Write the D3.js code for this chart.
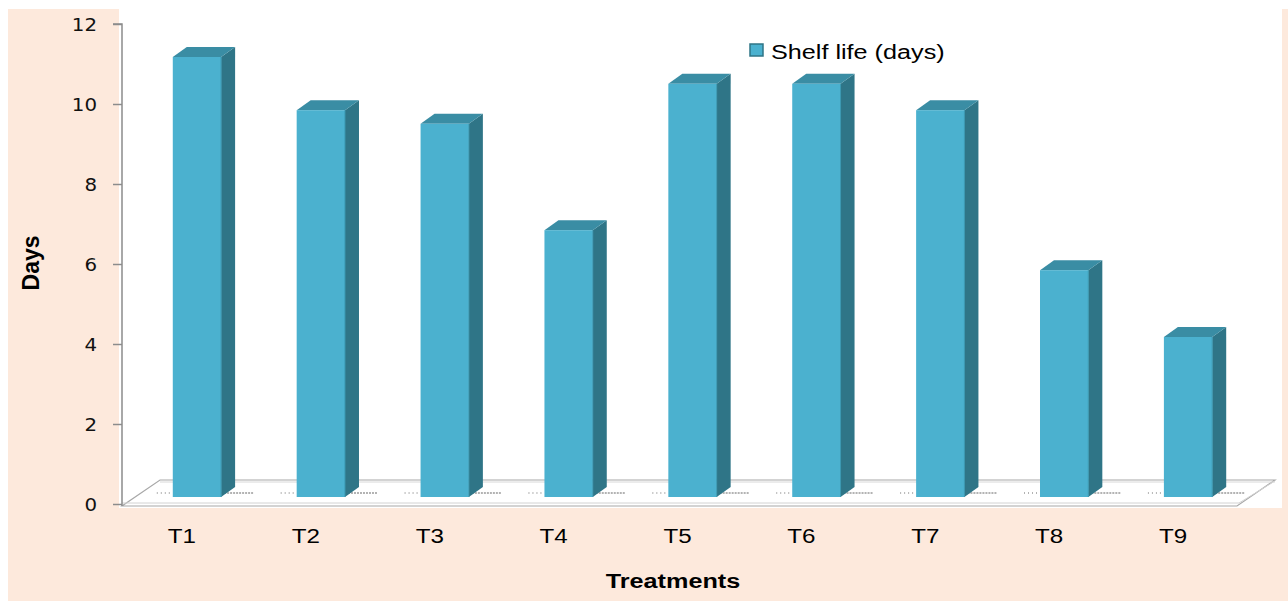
<!DOCTYPE html>
<html>
<head>
<meta charset="utf-8">
<script src="https://cdn.jsdelivr.net/npm/d3@7"></script>
<style>
  html, body { margin: 0; padding: 0; background: #ffffff; }
  svg { display: block; }
</style>
</head>
<body>
<svg id="chart" width="1288" height="601"></svg>
<script>
// Shelf life of each treatment, in days
const categories = ["T1", "T2", "T3", "T4", "T5", "T6", "T7", "T8", "T9"];
const shelfLife = [11.0, 9.67, 9.33, 6.67, 10.33, 10.33, 9.67, 5.67, 4.0];
const yTicks = [0, 2, 4, 6, 8, 10, 12];
const seriesName = "Shelf life (days)";

const svg = d3.select("#chart");

// Panel backgrounds
svg.append("rect").attr("x", 8).attr("y", 9).attr("width", 1280).attr("height", 592).attr("fill", "#fde9dc");
svg.append("rect").attr("x", 119).attr("y", 0).attr("width", 1163).attr("height", 508).attr("fill", "#ffffff");

// Scales
const y = d3.scaleLinear().domain([0, 12]).range([504, 24]);
const x = d3.scaleBand().domain(categories).range([122, 1237]).paddingInner(0.61).paddingOuter(0.305);

// 3D geometry: floor depth and bar placement inside it
const floorFrontY = y(0) + 2;
const floorDepth = { dx: 38, dy: -26 };
const barOffset = { dx: 13, dy: -9 };
const barDepth = { dx: 14, dy: -10 };

const colFront = "#4bb1cf";
const colSide = "#2f7587";
const colTop = "#3a8da4";

// Floor slab
const fx0 = 122, fx1 = 1237;
const floorPts = [
  [fx0, floorFrontY], [fx1, floorFrontY],
  [fx1 + floorDepth.dx, floorFrontY + floorDepth.dy],
  [fx0 + floorDepth.dx, floorFrontY + floorDepth.dy]
];
svg.append("polygon")
  .attr("points", floorPts.map(p => p.join(",")).join(" "))
  .attr("fill", "#ffffff").attr("stroke", "#a8a8a8").attr("stroke-width", 1.2);
svg.append("path")
  .attr("d", `M${fx0},${floorFrontY - 3} L${fx1 + 2},${floorFrontY - 3} L${fx1 + floorDepth.dx},${floorFrontY + floorDepth.dy + 1}`)
  .attr("fill", "none").attr("stroke", "#d2d2d2").attr("stroke-width", 1);
svg.append("line")
  .attr("x1", fx0 + floorDepth.dx).attr("x2", fx1 + floorDepth.dx)
  .attr("y1", floorFrontY + floorDepth.dy + 2).attr("y2", floorFrontY + floorDepth.dy + 2)
  .attr("stroke", "#d8d8d8").attr("stroke-width", 1);

// Soft dotted shadows on the floor beside each bar base
const shadowY = y(0) - 11;
const shadows = svg.append("g");
categories.forEach(c => {
  const bx = x(c) + barOffset.dx;
  shadows.append("line")
    .attr("x1", bx - 16).attr("x2", bx).attr("y1", shadowY).attr("y2", shadowY)
    .attr("stroke", "#9a9a9a").attr("stroke-width", 1.5).attr("stroke-dasharray", "1,3");
  shadows.append("line")
    .attr("x1", bx + x.bandwidth()).attr("x2", bx + x.bandwidth() + barDepth.dx + 18)
    .attr("y1", shadowY).attr("y2", shadowY)
    .attr("stroke", "#9a9a9a").attr("stroke-width", 1.5).attr("stroke-dasharray", "2,1");
});

// Y axis
const axis = svg.append("g").attr("transform", "translate(122,0)")
  .call(d3.axisLeft(y).tickValues(yTicks).tickSize(9).tickPadding(0).tickFormat(d3.format("d")));
axis.select(".domain").attr("stroke", "#8c8c8c").attr("stroke-width", 1.5)
  .attr("d", `M-9,${y(12)}H0V${floorFrontY}`);
axis.selectAll(".tick line").attr("stroke", "#8c8c8c").attr("stroke-width", 1.5);
axis.selectAll(".tick text").remove();
axis.selectAll(".tick").append("text")
  .attr("transform", "translate(-25,0) scale(1.1,1)")
  .attr("text-anchor", "end").attr("dy", "0.35em")
  .attr("fill", "#111").attr("font-family", "DejaVu Sans, sans-serif").attr("font-size", 18)
  .text(d => d);

// Bars (front, side and top faces)
const bars = svg.append("g").selectAll("g").data(categories.map((c, i) => ({ c, v: shelfLife[i] })))
  .join("g");

bars.each(function (d) {
  const g = d3.select(this);
  const x0 = x(d.c) + barOffset.dx;
  const x1 = x0 + x.bandwidth();
  const yt = y(d.v) + barOffset.dy + 2;
  const yb = y(0) + barOffset.dy + 2;
  const ddx = barDepth.dx, ddy = barDepth.dy;
  g.append("polygon")
    .attr("points", [[x1, yt], [x1 + ddx, yt + ddy], [x1 + ddx, yb + ddy], [x1, yb]].map(p => p.join(",")).join(" "))
    .attr("fill", colSide);
  g.append("polygon")
    .attr("points", [[x0, yt], [x1, yt], [x1 + ddx, yt + ddy], [x0 + ddx, yt + ddy]].map(p => p.join(",")).join(" "))
    .attr("fill", colTop);
  g.append("rect")
    .attr("x", x0).attr("y", yt).attr("width", x1 - x0).attr("height", yb - yt)
    .attr("fill", colFront);
  g.append("line")
    .attr("x1", x1).attr("x2", x1).attr("y1", yt).attr("y2", yb)
    .attr("stroke", "#3a97b0").attr("stroke-width", 1);
});

// Category labels
svg.append("g").selectAll("text").data(categories).join("text")
  .attr("transform", d => `translate(${x(d) + x.bandwidth() / 2 - 2},543) scale(1.15,1)`)
  .attr("text-anchor", "middle")
  .attr("font-family", "Liberation Sans, Arial, sans-serif").attr("font-size", 21).attr("fill", "#000")
  .text(d => d);

// Axis titles
svg.append("text")
  .attr("transform", "translate(673,588) scale(1.2,1)")
  .attr("text-anchor", "middle")
  .attr("font-family", "Liberation Sans, Arial, sans-serif").attr("font-weight", "bold")
  .attr("font-size", 21).attr("fill", "#000")
  .text("Treatments");

svg.append("text")
  .attr("transform", "translate(39,263) rotate(-90)")
  .attr("text-anchor", "middle")
  .attr("font-family", "Liberation Sans Narrow, Liberation Sans, Arial, sans-serif").attr("font-weight", "bold")
  .attr("font-size", 23).attr("fill", "#000")
  .text("Days");

// Legend
const legend = svg.append("g").attr("transform", "translate(750,44)");
legend.append("rect").attr("width", 13).attr("height", 12).attr("fill", colFront)
  .attr("stroke", colSide).attr("stroke-width", 1.5);
legend.append("text")
  .attr("transform", "translate(21,15) scale(1.2,1)")
  .attr("font-family", "Liberation Sans, Arial, sans-serif").attr("font-size", 21).attr("fill", "#000")
  .text(seriesName);
</script>
</body>
</html>
